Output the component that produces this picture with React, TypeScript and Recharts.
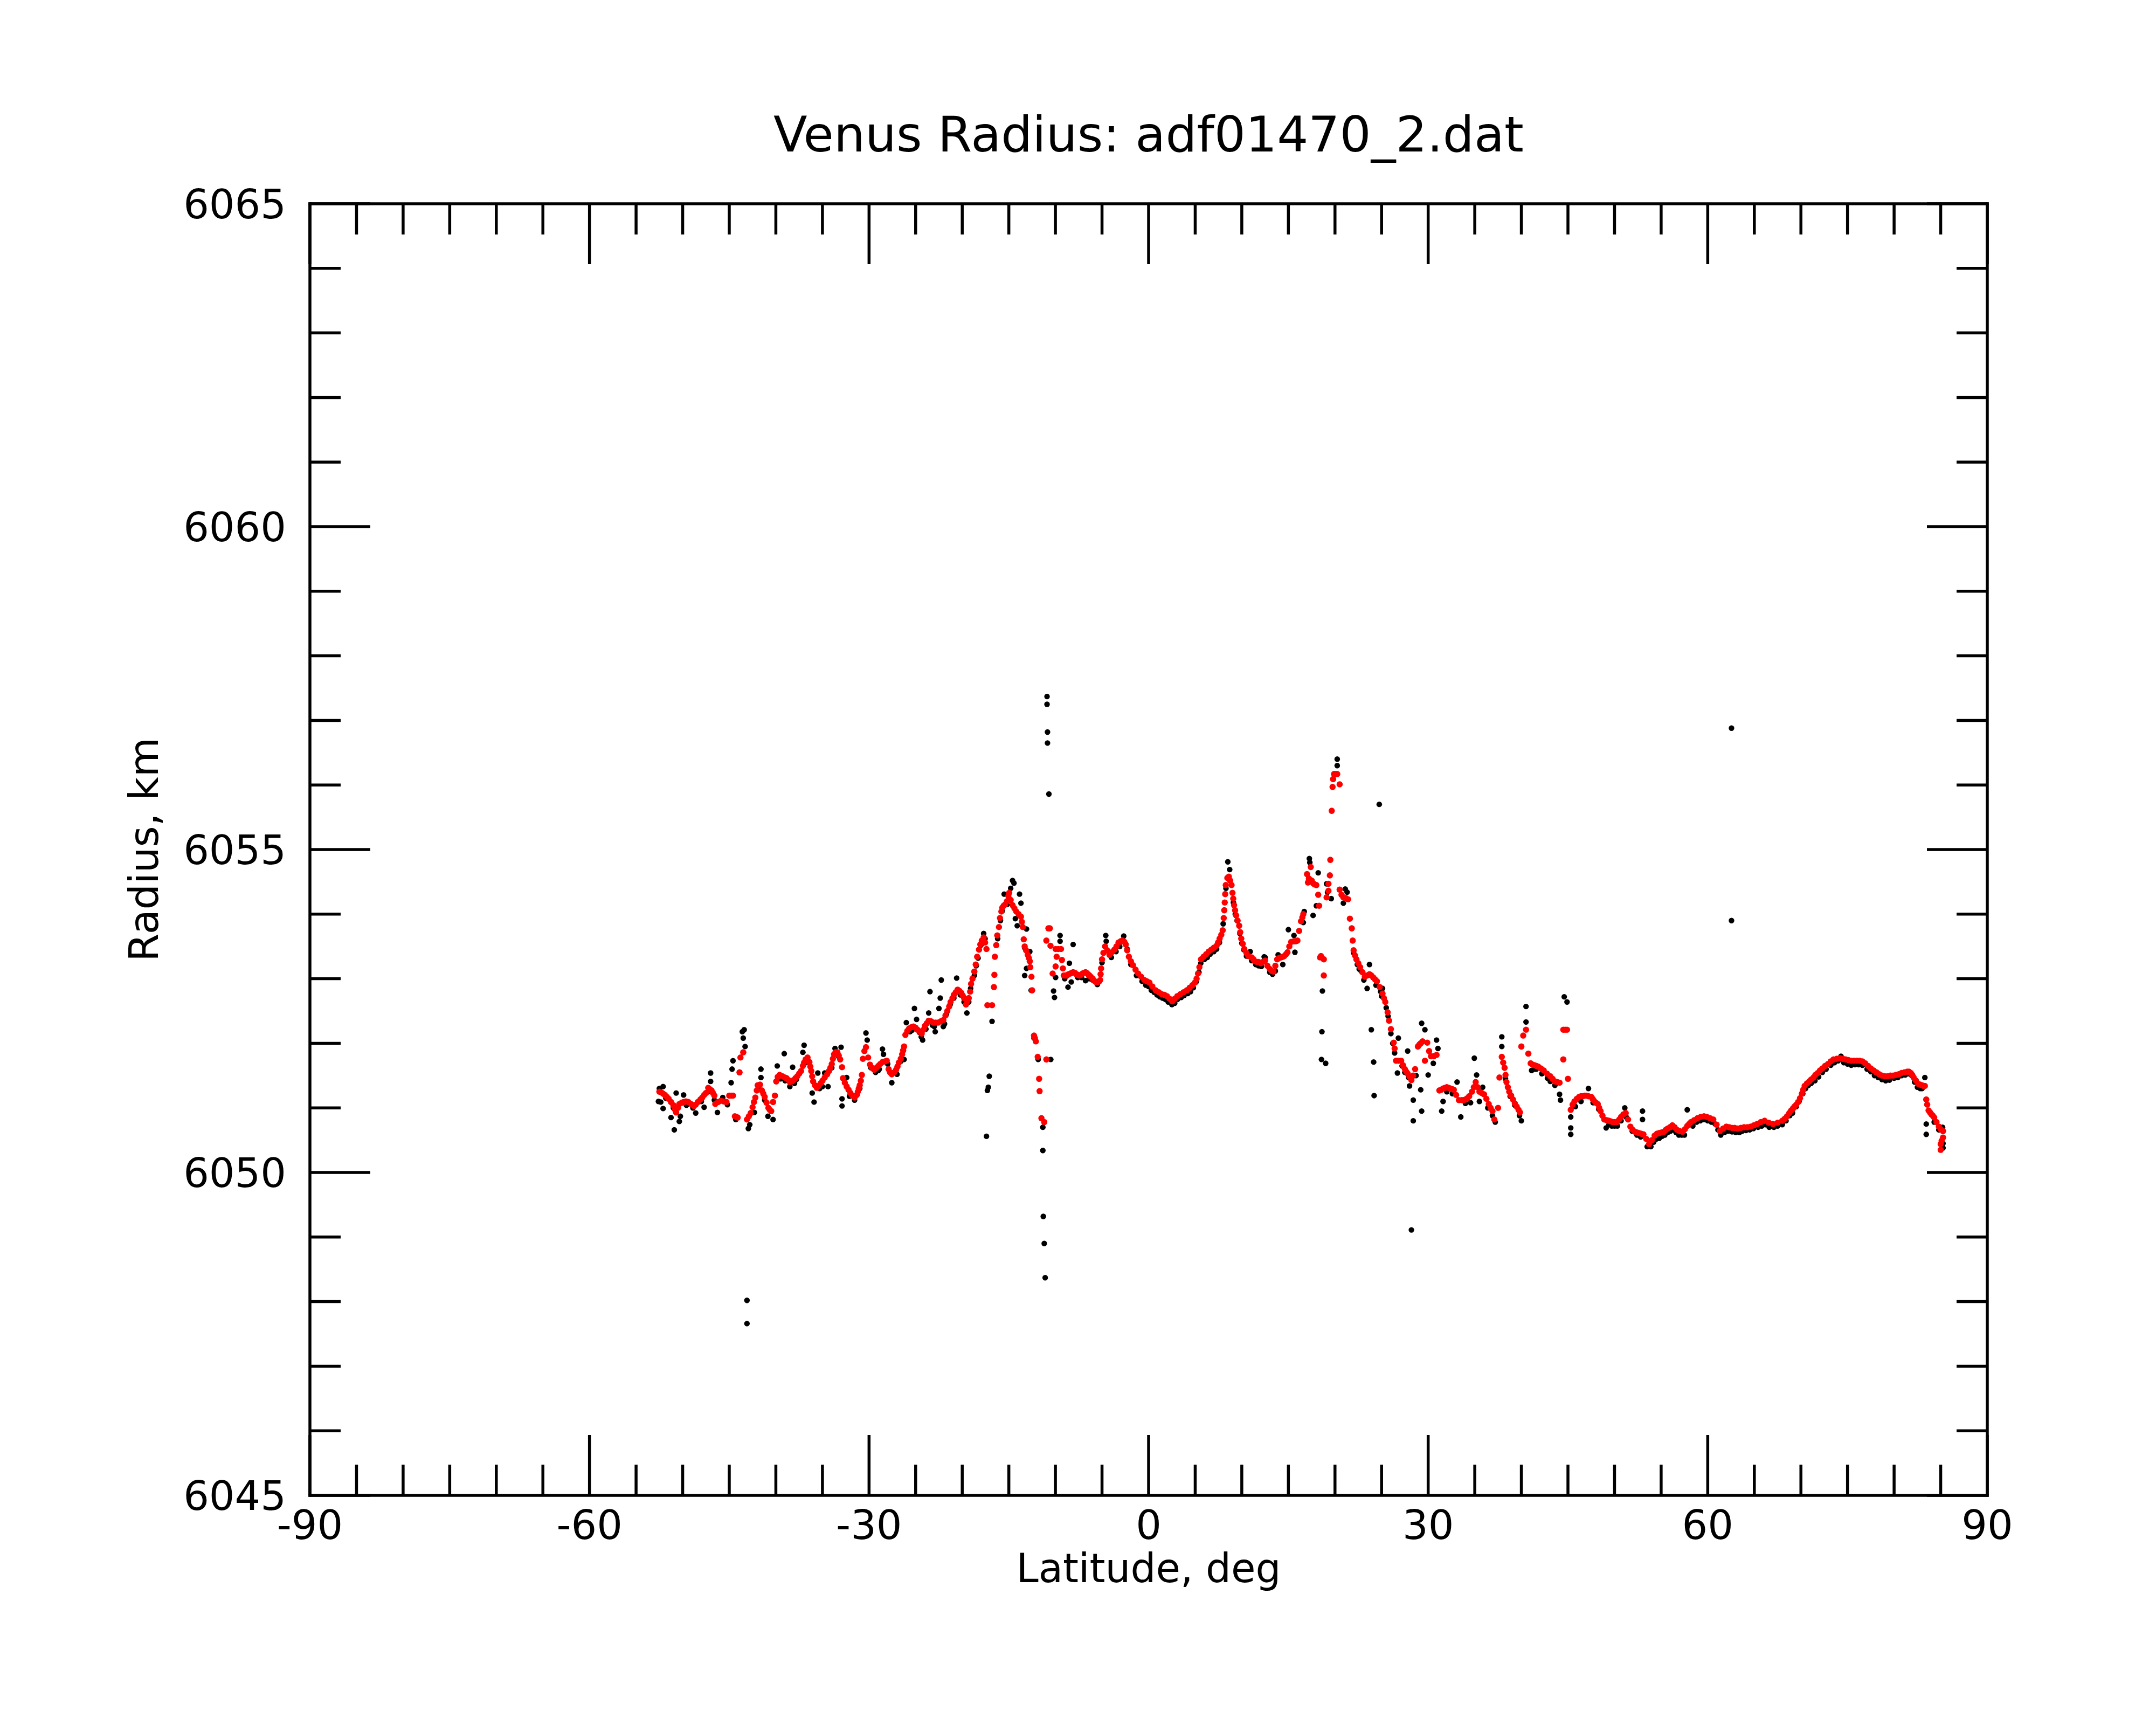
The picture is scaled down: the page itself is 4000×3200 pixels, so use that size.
import React from "react";
import { Scatter, ScatterChart, XAxis, YAxis } from "recharts";

// raw radius samples (black), [latitude deg, radius km]
const rawSamples: [number, number][] = [
  [-52.6, 6051.1], [-52.5, 6051.3], [-52.35, 6051.09], [-52.1, 6051.33], [-52.1, 6050.99],
  [-51.8, 6051.15], [-51.25, 6050.85], [-51.0, 6051.0], [-50.9, 6050.66], [-50.7, 6051.23],
  [-50.36, 6050.79], [-50.25, 6050.87], [-49.9, 6051.2], [-49.6, 6051.04], [-48.9, 6051.0],
  [-48.6, 6050.92], [-48.0, 6051.1], [-47.7, 6051.01], [-47.3, 6051.25], [-47.0, 6051.54],
  [-47.0, 6051.41], [-46.6, 6051.12], [-46.27, 6050.93], [-45.7, 6051.16], [-45.2, 6051.05],
  [-44.8, 6051.39], [-44.7, 6051.6], [-44.6, 6051.73], [-44.3, 6050.82], [-43.6, 6052.18],
  [-43.5, 6052.08], [-43.4, 6052.21], [-43.3, 6051.95], [-43.1, 6048.02], [-43.1, 6047.66],
  [-42.95, 6050.68], [-42.8, 6050.74], [-42.3, 6050.93], [-41.9, 6051.3], [-41.6, 6051.6],
  [-41.6, 6051.47], [-41.2, 6051.12], [-40.85, 6050.87], [-40.3, 6050.82], [-39.85, 6051.65],
  [-39.5, 6051.45], [-39.1, 6051.84], [-39.0, 6051.42], [-38.5, 6051.33], [-38.2, 6051.63],
  [-38.0, 6051.38], [-37.8, 6051.44], [-37.1, 6051.86], [-36.97, 6051.97], [-36.8, 6051.7],
  [-36.5, 6051.72], [-36.1, 6051.23], [-35.9, 6051.09], [-35.5, 6051.54], [-35.3, 6051.3],
  [-35.0, 6051.33], [-34.76, 6051.54], [-34.4, 6051.33], [-34.0, 6051.62], [-33.65, 6051.92],
  [-33.3, 6051.8], [-33.0, 6051.94], [-32.9, 6051.14], [-32.9, 6051.03], [-32.4, 6051.47],
  [-32.1, 6051.18], [-31.55, 6051.12], [-31.3, 6051.2], [-31.0, 6051.3], [-30.33, 6052.16],
  [-30.2, 6052.05], [-29.8, 6051.62], [-29.3, 6051.55], [-29.0, 6051.58], [-28.9, 6051.6],
  [-28.56, 6051.91], [-28.45, 6051.83], [-28.0, 6051.68], [-27.56, 6051.39], [-27.2, 6051.55],
  [-27.0, 6051.52], [-26.6, 6051.72], [-26.24, 6051.75], [-26.0, 6052.32], [-25.6, 6052.18],
  [-25.4, 6052.2], [-25.13, 6052.54], [-24.9, 6052.37], [-24.6, 6052.17], [-24.4, 6052.1],
  [-24.25, 6052.05], [-23.9, 6052.22], [-23.6, 6052.47], [-23.46, 6052.8], [-23.2, 6052.28],
  [-23.0, 6052.26], [-22.9, 6052.18], [-22.5, 6052.54], [-22.36, 6052.7], [-22.25, 6052.98],
  [-22.03, 6052.26], [-21.9, 6052.3], [-21.7, 6052.45], [-21.3, 6052.6], [-20.9, 6052.7],
  [-20.6, 6053.01], [-20.6, 6052.8], [-20.2, 6052.75], [-19.8, 6052.64], [-19.5, 6052.47],
  [-19.3, 6052.64], [-19.1, 6052.85], [-18.7, 6053.05], [-18.5, 6053.2], [-18.3, 6053.32],
  [-18.0, 6053.52], [-17.7, 6053.7], [-17.55, 6053.62], [-17.4, 6050.56], [-17.3, 6051.27],
  [-17.2, 6051.32], [-17.1, 6051.49], [-16.8, 6052.34], [-16.2, 6053.62], [-15.9, 6053.9],
  [-15.7, 6054.05], [-15.5, 6054.31], [-15.2, 6054.15], [-14.8, 6054.4], [-14.6, 6054.52],
  [-14.45, 6054.48], [-14.3, 6053.93], [-14.1, 6053.82], [-13.85, 6054.31], [-13.7, 6054.17],
  [-13.3, 6053.48], [-13.1, 6053.77], [-13.1, 6053.16], [-13.3, 6053.05], [-12.75, 6053.42],
  [-12.6, 6052.82], [-12.3, 6052.08], [-11.85, 6051.75], [-11.35, 6050.7], [-11.35, 6050.34],
  [-11.3, 6049.32], [-11.2, 6048.9], [-11.1, 6048.37], [-10.9, 6057.37], [-10.9, 6057.25],
  [-10.85, 6056.82], [-10.85, 6056.65], [-10.7, 6055.86], [-10.5, 6051.75], [-10.2, 6052.81],
  [-10.1, 6052.71], [-9.98, 6053.02], [-9.5, 6053.67], [-9.5, 6053.58], [-9.0, 6053.0],
  [-8.65, 6052.87], [-8.5, 6053.24], [-8.3, 6052.95], [-8.1, 6053.53], [-7.6, 6053.02],
  [-7.2, 6053.02], [-6.77, 6052.97], [-6.4, 6053.0], [-6.0, 6052.98], [-5.5, 6052.91],
  [-5.0, 6053.25], [-4.6, 6053.67], [-4.55, 6053.58], [-4.0, 6053.33], [-3.5, 6053.42],
  [-3.1, 6053.5], [-2.67, 6053.66], [-2.3, 6053.46], [-1.9, 6053.22], [-1.3, 6053.05],
  [-0.7, 6052.96], [-0.3, 6052.9], [0.0, 6052.88], [0.3, 6052.82], [0.6, 6052.79],
  [0.9, 6052.75], [1.2, 6052.72], [1.5, 6052.7], [1.8, 6052.68], [2.1, 6052.64],
  [2.5, 6052.6], [2.8, 6052.62], [3.1, 6052.68], [3.5, 6052.71], [3.8, 6052.74],
  [4.2, 6052.77], [4.5, 6052.8], [4.8, 6052.86], [5.1, 6052.95], [5.4, 6053.1],
  [5.6, 6053.24], [6.0, 6053.3], [6.3, 6053.33], [6.6, 6053.38], [7.0, 6053.42],
  [7.3, 6053.46], [7.6, 6053.56], [8.0, 6053.85], [8.3, 6054.4], [8.5, 6054.81],
  [8.7, 6054.69], [9.1, 6054.18], [9.3, 6054.0], [9.5, 6053.9], [9.8, 6053.7],
  [10.0, 6053.55], [10.2, 6053.45], [10.5, 6053.35], [10.9, 6053.42], [11.06, 6053.28],
  [11.5, 6053.22], [11.8, 6053.2], [12.1, 6053.19], [12.4, 6053.34], [12.5, 6053.33],
  [13.0, 6053.1], [13.3, 6053.07], [13.6, 6053.12], [13.9, 6053.37], [14.4, 6053.22],
  [15.0, 6053.76], [15.6, 6053.67], [15.7, 6053.41], [16.6, 6053.87], [16.7, 6054.04],
  [17.25, 6054.86], [17.3, 6054.8], [17.65, 6053.98], [18.0, 6054.13], [18.2, 6054.64],
  [18.55, 6051.75], [18.6, 6052.18], [18.65, 6052.81], [19.0, 6051.69], [19.1, 6054.47],
  [19.2, 6054.34], [19.6, 6054.24], [20.24, 6056.4], [20.24, 6056.3], [20.9, 6054.17],
  [21.1, 6054.39], [21.3, 6054.34], [22.0, 6053.4], [22.4, 6053.22], [22.6, 6053.15],
  [22.8, 6053.12], [23.1, 6052.98], [23.45, 6052.85], [23.7, 6053.22], [23.9, 6052.21],
  [24.15, 6051.71], [24.2, 6051.19], [24.4, 6052.9], [24.75, 6055.7], [24.9, 6052.8],
  [25.0, 6052.73], [25.1, 6052.85], [25.5, 6052.55], [25.7, 6052.42], [26.0, 6052.15],
  [26.2, 6052.0], [26.4, 6051.85], [26.7, 6051.54], [26.8, 6052.08], [27.2, 6051.65],
  [27.5, 6051.55], [27.8, 6051.88], [27.9, 6051.47], [28.0, 6051.34], [28.2, 6049.11],
  [28.4, 6050.8], [28.4, 6051.12], [28.7, 6051.5], [29.2, 6051.28], [29.3, 6050.95],
  [29.3, 6052.31], [29.65, 6052.21], [30.0, 6051.51], [30.55, 6051.69], [30.9, 6052.05],
  [31.05, 6051.92], [31.45, 6050.95], [31.6, 6051.1], [32.0, 6051.25], [32.6, 6051.22],
  [33.1, 6051.4], [33.5, 6050.86], [34.0, 6051.07], [34.55, 6051.08], [34.95, 6051.77],
  [35.2, 6051.51], [35.5, 6051.1], [35.85, 6051.32], [36.4, 6051.0], [36.9, 6050.88],
  [37.2, 6050.78], [37.9, 6052.1], [37.9, 6051.95], [38.3, 6051.45], [38.8, 6051.18],
  [39.3, 6051.04], [39.8, 6050.88], [40.0, 6050.8], [40.5, 6052.57], [40.5, 6052.33],
  [41.1, 6051.58], [41.4, 6051.6], [41.6, 6051.6], [42.2, 6051.53], [42.8, 6051.46],
  [43.1, 6051.41], [43.6, 6051.35], [44.1, 6051.21], [44.2, 6051.12], [44.6, 6052.72],
  [44.9, 6052.64], [45.3, 6050.86], [45.3, 6050.69], [45.3, 6050.59], [45.8, 6051.02],
  [46.4, 6051.1], [47.2, 6051.3], [47.7, 6051.08], [48.3, 6050.98], [49.1, 6050.69],
  [49.4, 6050.74], [49.7, 6050.72], [50.0, 6050.72], [50.3, 6050.72], [50.7, 6050.8],
  [51.1, 6051.0], [51.3, 6050.85], [51.9, 6050.64], [52.4, 6050.58], [52.8, 6050.55],
  [53.0, 6050.95], [53.0, 6050.82], [53.5, 6050.4], [53.9, 6050.4], [54.2, 6050.47],
  [54.5, 6050.52], [54.8, 6050.53], [55.1, 6050.56], [55.4, 6050.58], [55.7, 6050.62],
  [56.0, 6050.64], [56.3, 6050.66], [56.6, 6050.62], [56.9, 6050.58], [57.2, 6050.58],
  [57.5, 6050.58], [57.8, 6050.97], [58.4, 6050.72], [58.8, 6050.78], [59.2, 6050.8],
  [59.6, 6050.82], [60.0, 6050.8], [60.4, 6050.78], [60.8, 6050.75], [61.1, 6050.66],
  [61.4, 6050.58], [61.8, 6050.62], [62.2, 6050.64], [62.55, 6053.9], [62.55, 6056.88],
  [62.6, 6050.63], [63.0, 6050.62], [63.4, 6050.62], [63.7, 6050.64], [64.1, 6050.65],
  [64.5, 6050.66], [64.9, 6050.68], [65.4, 6050.7], [65.8, 6050.72], [66.2, 6050.74],
  [66.6, 6050.7], [67.1, 6050.7], [67.5, 6050.72], [68.0, 6050.74], [68.4, 6050.8],
  [68.8, 6050.88], [69.1, 6050.92], [69.5, 6051.02], [69.8, 6051.1], [70.2, 6051.22],
  [70.5, 6051.3], [70.8, 6051.35], [71.1, 6051.38], [71.5, 6051.42], [71.9, 6051.48],
  [72.3, 6051.55], [72.7, 6051.6], [73.2, 6051.66], [73.6, 6051.7], [74.0, 6051.73],
  [74.3, 6051.8], [74.6, 6051.7], [75.0, 6051.68], [75.4, 6051.66], [75.8, 6051.67],
  [76.2, 6051.67], [76.6, 6051.66], [77.1, 6051.6], [77.5, 6051.56], [77.9, 6051.5],
  [78.3, 6051.47], [78.7, 6051.44], [79.1, 6051.42], [79.5, 6051.43], [80.0, 6051.46],
  [80.4, 6051.47], [80.8, 6051.5], [81.2, 6051.51], [81.6, 6051.53], [81.9, 6051.5],
  [82.2, 6051.4], [82.5, 6051.32], [82.8, 6051.3], [83.0, 6051.3], [83.3, 6051.47],
  [83.45, 6050.75], [83.45, 6050.59], [83.9, 6050.92], [84.3, 6050.78], [84.8, 6050.66],
  [85.2, 6050.7], [85.25, 6050.45], [85.25, 6050.38],
];

// filtered radius samples (red)
const fitSamples: [number, number][] = [
  [-52.5, 6051.25], [-52.3, 6051.24], [-52.1, 6051.22], [-51.9, 6051.2], [-51.7, 6051.17],
  [-51.5, 6051.14], [-51.25, 6051.09], [-51.0, 6051.04], [-50.85, 6050.98], [-50.7, 6050.93],
  [-50.5, 6051.0], [-50.36, 6051.06], [-50.1, 6051.08], [-49.9, 6051.09], [-49.65, 6051.1],
  [-49.4, 6051.09], [-49.1, 6051.06], [-48.8, 6051.03], [-48.6, 6051.05], [-48.37, 6051.09],
  [-48.1, 6051.13], [-47.9, 6051.16], [-47.7, 6051.2], [-47.5, 6051.23], [-47.26, 6051.31],
  [-47.1, 6051.29], [-46.9, 6051.27], [-46.75, 6051.23], [-46.6, 6051.19], [-46.5, 6051.06],
  [-46.2, 6051.09], [-45.9, 6051.11], [-45.6, 6051.1], [-45.3, 6051.09], [-45.0, 6051.19],
  [-44.8, 6051.19], [-44.6, 6051.19], [-44.4, 6050.87], [-44.25, 6050.86], [-44.1, 6050.85],
  [-43.9, 6051.55], [-43.8, 6051.78], [-43.5, 6051.86], [-43.1, 6050.82], [-42.9, 6050.87],
  [-42.7, 6050.92], [-42.5, 6051.01], [-42.35, 6051.09], [-42.2, 6051.16], [-42.05, 6051.27],
  [-41.95, 6051.35], [-41.7, 6051.36], [-41.5, 6051.27], [-41.35, 6051.22], [-41.2, 6051.17],
  [-41.0, 6051.08], [-40.8, 6051.0], [-40.65, 6050.97], [-40.5, 6050.95], [-40.3, 6051.09],
  [-40.1, 6051.19], [-39.96, 6051.41], [-39.8, 6051.48], [-39.6, 6051.51], [-39.3, 6051.49],
  [-39.05, 6051.47], [-38.85, 6051.46], [-38.65, 6051.43], [-38.5, 6051.4], [-38.3, 6051.41],
  [-38.1, 6051.43], [-37.9, 6051.46], [-37.7, 6051.49], [-37.5, 6051.53], [-37.3, 6051.57],
  [-37.1, 6051.65], [-36.97, 6051.7], [-36.8, 6051.75], [-36.6, 6051.78], [-36.4, 6051.71],
  [-36.3, 6051.64], [-36.2, 6051.57], [-36.1, 6051.49], [-36.0, 6051.41], [-35.8, 6051.35],
  [-35.6, 6051.31], [-35.4, 6051.34], [-35.2, 6051.38], [-35.0, 6051.42], [-34.76, 6051.47],
  [-34.5, 6051.52], [-34.3, 6051.57], [-34.15, 6051.62], [-34.0, 6051.68], [-33.88, 6051.76],
  [-33.76, 6051.83], [-33.6, 6051.86], [-33.4, 6051.86], [-33.25, 6051.81], [-33.1, 6051.75],
  [-32.9, 6051.63], [-32.8, 6051.46], [-32.6, 6051.39], [-32.4, 6051.33], [-32.2, 6051.28],
  [-32.0, 6051.23], [-31.8, 6051.19], [-31.55, 6051.16], [-31.35, 6051.2], [-31.2, 6051.25],
  [-31.1, 6051.3], [-31.0, 6051.35], [-30.88, 6051.42], [-30.77, 6051.51], [-30.66, 6051.76],
  [-30.5, 6051.88], [-30.33, 6051.94], [-30.1, 6051.78], [-29.9, 6051.67], [-29.7, 6051.62],
  [-29.45, 6051.59], [-29.2, 6051.62], [-29.0, 6051.65], [-28.8, 6051.68], [-28.56, 6051.71],
  [-28.3, 6051.72], [-28.1, 6051.73], [-27.9, 6051.6], [-27.75, 6051.55], [-27.56, 6051.52],
  [-27.3, 6051.55], [-27.1, 6051.59], [-26.95, 6051.64], [-26.8, 6051.7], [-26.6, 6051.76],
  [-26.45, 6051.83], [-26.34, 6051.89], [-26.24, 6051.95], [-26.1, 6052.13], [-25.9, 6052.19],
  [-25.7, 6052.23], [-25.45, 6052.25], [-25.24, 6052.26], [-25.0, 6052.24], [-24.8, 6052.21],
  [-24.55, 6052.18], [-24.35, 6052.15], [-24.15, 6052.21], [-24.0, 6052.27], [-23.8, 6052.31],
  [-23.6, 6052.35], [-23.35, 6052.34], [-23.1, 6052.32], [-22.85, 6052.32], [-22.6, 6052.32],
  [-22.3, 6052.34], [-22.03, 6052.36], [-21.8, 6052.43], [-21.6, 6052.5], [-21.4, 6052.57],
  [-21.25, 6052.64], [-21.05, 6052.7], [-20.9, 6052.75], [-20.7, 6052.79], [-20.5, 6052.83],
  [-20.3, 6052.81], [-20.1, 6052.78], [-19.95, 6052.74], [-19.8, 6052.7], [-19.6, 6052.6],
  [-19.45, 6052.65], [-19.3, 6052.7], [-19.15, 6052.8], [-19.05, 6052.92], [-18.9, 6053.0],
  [-18.7, 6053.11], [-18.55, 6053.22], [-18.4, 6053.34], [-18.2, 6053.45], [-18.06, 6053.53],
  [-17.9, 6053.59], [-17.7, 6053.64], [-17.55, 6053.56], [-17.4, 6053.46], [-17.3, 6052.59],
  [-16.8, 6052.59], [-16.6, 6052.87], [-16.55, 6053.06], [-16.5, 6053.34], [-16.35, 6053.52],
  [-16.24, 6053.67], [-16.06, 6053.8], [-15.95, 6053.94], [-15.8, 6054.04], [-15.7, 6054.1],
  [-15.55, 6054.13], [-15.4, 6054.15], [-15.2, 6054.2], [-15.05, 6054.28], [-14.96, 6054.33],
  [-14.8, 6054.22], [-14.6, 6054.14], [-14.4, 6054.09], [-14.2, 6054.04], [-13.95, 6054.0],
  [-13.7, 6053.96], [-13.6, 6053.88], [-13.5, 6053.8], [-13.4, 6053.61], [-13.3, 6053.5],
  [-13.15, 6053.44], [-12.97, 6053.37], [-12.85, 6053.32], [-12.75, 6053.27], [-12.7, 6053.18],
  [-12.57, 6053.03], [-12.5, 6052.82], [-12.3, 6052.12], [-12.2, 6052.08], [-12.1, 6052.03],
  [-11.9, 6051.79], [-11.75, 6051.45], [-11.7, 6051.26], [-11.5, 6050.84], [-11.2, 6050.78],
  [-10.97, 6051.75], [-10.97, 6053.59], [-10.75, 6053.78], [-10.6, 6053.78], [-10.53, 6053.51],
  [-10.3, 6053.08], [-9.98, 6053.46], [-9.87, 6053.34], [-9.98, 6053.19], [-9.7, 6053.46],
  [-9.4, 6053.46], [-9.3, 6053.29], [-9.2, 6053.16], [-9.1, 6053.05], [-8.95, 6053.05],
  [-8.76, 6053.05], [-8.6, 6053.07], [-8.4, 6053.08], [-8.25, 6053.09], [-8.1, 6053.1],
  [-7.9, 6053.09], [-7.75, 6053.07], [-7.6, 6053.06], [-7.43, 6053.05], [-7.25, 6053.06],
  [-7.1, 6053.08], [-6.95, 6053.09], [-6.77, 6053.1], [-6.65, 6053.09], [-6.5, 6053.07],
  [-6.35, 6053.05], [-6.2, 6053.03], [-6.0, 6053.0], [-5.85, 6052.97], [-5.66, 6052.95],
  [-5.45, 6052.95], [-5.3, 6052.96], [-5.2, 6052.98], [-5.15, 6053.07], [-5.1, 6053.16],
  [-5.0, 6053.3], [-4.85, 6053.4], [-4.67, 6053.5], [-4.45, 6053.44], [-4.2, 6053.37],
  [-3.95, 6053.41], [-3.67, 6053.45], [-3.45, 6053.5], [-3.23, 6053.56], [-3.0, 6053.58],
  [-2.8, 6053.59], [-2.6, 6053.57], [-2.45, 6053.53], [-2.3, 6053.44], [-2.12, 6053.34],
  [-1.9, 6053.27], [-1.68, 6053.21], [-1.4, 6053.14], [-1.12, 6053.08], [-0.8, 6053.03],
  [-0.46, 6052.98], [-0.2, 6052.96], [0.09, 6052.94], [0.4, 6052.88], [0.76, 6052.82],
  [1.1, 6052.79], [1.42, 6052.76], [1.7, 6052.75], [1.97, 6052.73], [2.25, 6052.69],
  [2.53, 6052.65], [2.8, 6052.69], [3.08, 6052.73], [3.4, 6052.76], [3.74, 6052.79],
  [4.1, 6052.82], [4.41, 6052.86], [4.7, 6052.9], [4.96, 6052.94], [5.15, 6053.0],
  [5.3, 6053.08], [5.45, 6053.18], [5.63, 6053.3], [5.9, 6053.34], [6.18, 6053.38],
  [6.45, 6053.42], [6.73, 6053.45], [7.0, 6053.48], [7.29, 6053.51], [7.45, 6053.56],
  [7.62, 6053.62], [7.8, 6053.68], [7.95, 6053.75], [8.06, 6053.94], [8.12, 6054.06],
  [8.17, 6054.18], [8.22, 6054.31], [8.28, 6054.45], [8.45, 6054.56], [8.61, 6054.58],
  [8.75, 6054.52], [8.9, 6054.45], [9.0, 6054.33], [9.08, 6054.24], [9.17, 6054.14],
  [9.28, 6054.06], [9.39, 6053.98], [9.55, 6053.9], [9.72, 6053.82], [9.83, 6053.72],
  [9.94, 6053.62], [10.1, 6053.54], [10.27, 6053.46], [10.5, 6053.4], [10.7, 6053.35],
  [11.06, 6053.33], [11.25, 6053.3], [11.4, 6053.27], [11.6, 6053.26], [11.8, 6053.26],
  [12.05, 6053.24], [12.25, 6053.26], [12.5, 6053.28], [12.75, 6053.2], [13.0, 6053.15],
  [13.2, 6053.12], [13.4, 6053.11], [13.6, 6053.2], [13.8, 6053.3], [14.0, 6053.32],
  [14.2, 6053.33], [14.4, 6053.34], [14.55, 6053.35], [14.75, 6053.38], [14.9, 6053.41],
  [15.1, 6053.5], [15.3, 6053.57], [15.6, 6053.58], [15.8, 6053.58], [15.97, 6053.59],
  [16.15, 6053.74], [16.35, 6053.89], [16.5, 6053.95], [16.6, 6054.0], [17.0, 6054.62],
  [17.1, 6054.49], [17.2, 6054.55], [17.4, 6054.73], [17.5, 6054.52], [17.65, 6054.48],
  [17.8, 6054.46], [18.0, 6054.45], [18.2, 6054.3], [18.3, 6054.13], [18.4, 6053.33],
  [18.5, 6053.35], [18.8, 6053.3], [18.8, 6053.05], [19.1, 6054.26], [19.3, 6054.36],
  [19.3, 6054.47], [19.45, 6054.6], [19.5, 6054.84], [19.65, 6055.6], [19.74, 6055.97],
  [19.8, 6056.09], [19.9, 6056.17], [20.1, 6056.17], [20.24, 6056.17], [20.5, 6056.01],
  [20.5, 6054.38], [20.7, 6054.3], [20.9, 6054.26], [21.15, 6054.25], [21.4, 6054.23],
  [21.6, 6053.93], [21.8, 6053.78], [21.9, 6053.59], [22.0, 6053.44], [22.15, 6053.36],
  [22.3, 6053.3], [22.5, 6053.24], [22.7, 6053.18], [22.95, 6053.1], [23.2, 6053.03],
  [23.45, 6053.05], [23.7, 6053.07], [23.9, 6053.05], [24.1, 6053.02], [24.3, 6052.99],
  [24.5, 6052.96], [24.8, 6052.87], [25.1, 6052.77], [25.25, 6052.7], [25.4, 6052.64],
  [25.65, 6052.48], [25.8, 6052.35], [26.0, 6052.22], [26.3, 6052.01], [26.4, 6051.92],
  [26.55, 6051.73], [26.8, 6051.73], [27.1, 6051.73], [27.3, 6051.66], [27.5, 6051.6],
  [27.65, 6051.56], [27.8, 6051.53], [28.0, 6051.48], [28.2, 6051.43], [28.4, 6051.5],
  [28.6, 6051.6], [28.9, 6051.95], [29.05, 6051.98], [29.2, 6052.0], [29.4, 6052.03],
  [29.65, 6051.73], [29.9, 6052.01], [30.1, 6051.88], [30.3, 6051.8], [30.6, 6051.8],
  [30.9, 6051.82], [31.2, 6051.27], [31.4, 6051.28], [31.6, 6051.3], [31.8, 6051.31],
  [32.0, 6051.32], [32.2, 6051.31], [32.4, 6051.3], [32.6, 6051.29], [32.75, 6051.28],
  [33.0, 6051.2], [33.3, 6051.12], [33.6, 6051.12], [33.8, 6051.12], [34.0, 6051.13],
  [34.2, 6051.15], [34.4, 6051.18], [34.7, 6051.25], [34.9, 6051.32], [35.1, 6051.4],
  [35.3, 6051.32], [35.5, 6051.25], [35.75, 6051.23], [36.0, 6051.21], [36.25, 6051.14],
  [36.5, 6051.06], [36.7, 6051.0], [36.9, 6050.95], [37.1, 6050.82], [37.5, 6051.0],
  [37.65, 6051.47], [37.9, 6051.79], [38.05, 6051.7], [38.2, 6051.62], [38.3, 6051.51],
  [38.4, 6051.4], [38.55, 6051.32], [38.7, 6051.25], [38.9, 6051.19], [39.1, 6051.13],
  [39.3, 6051.07], [39.5, 6051.02], [39.7, 6050.97], [39.85, 6050.93], [40.0, 6051.95],
  [40.2, 6052.12], [40.5, 6052.21], [40.75, 6051.84], [41.0, 6051.69], [41.2, 6051.67],
  [41.4, 6051.66], [41.6, 6051.65], [41.8, 6051.64], [42.1, 6051.61], [42.4, 6051.58],
  [42.75, 6051.53], [43.1, 6051.49], [43.35, 6051.45], [43.6, 6051.41], [43.85, 6051.4],
  [44.1, 6051.39], [44.5, 6052.21], [44.7, 6052.21], [44.9, 6052.21], [44.5, 6051.75],
  [45.0, 6051.45], [45.3, 6050.97], [45.5, 6051.05], [45.7, 6051.1], [45.95, 6051.14],
  [46.2, 6051.17], [46.4, 6051.18], [46.6, 6051.18], [46.8, 6051.19], [46.95, 6051.19],
  [47.2, 6051.18], [47.5, 6051.17], [47.65, 6051.14], [47.8, 6051.11], [48.0, 6051.08],
  [48.2, 6051.06], [48.35, 6051.0], [48.5, 6050.95], [48.7, 6050.88], [48.9, 6050.82],
  [49.15, 6050.81], [49.4, 6050.8], [49.6, 6050.79], [49.8, 6050.78], [50.0, 6050.78],
  [50.25, 6050.78], [50.5, 6050.82], [50.7, 6050.86], [50.95, 6050.9], [51.2, 6050.92],
  [51.45, 6050.82], [51.7, 6050.71], [51.95, 6050.66], [52.2, 6050.63], [52.4, 6050.62],
  [52.6, 6050.61], [52.85, 6050.6], [53.1, 6050.59], [53.4, 6050.52], [53.7, 6050.44],
  [54.0, 6050.5], [54.3, 6050.57], [54.55, 6050.6], [54.8, 6050.61], [55.05, 6050.62],
  [55.3, 6050.63], [55.5, 6050.66], [55.7, 6050.68], [55.95, 6050.7], [56.2, 6050.73],
  [56.45, 6050.7], [56.7, 6050.66], [57.0, 6050.64], [57.3, 6050.63], [57.55, 6050.67],
  [57.8, 6050.72], [58.0, 6050.75], [58.2, 6050.78], [58.55, 6050.81], [58.9, 6050.84],
  [59.25, 6050.86], [59.6, 6050.87], [59.9, 6050.86], [60.25, 6050.84], [60.6, 6050.82],
  [60.95, 6050.74], [61.3, 6050.64], [61.65, 6050.68], [62.0, 6050.71], [62.3, 6050.7],
  [62.6, 6050.69], [62.9, 6050.69], [63.2, 6050.68], [63.55, 6050.69], [63.9, 6050.7],
  [64.25, 6050.7], [64.6, 6050.71], [64.95, 6050.73], [65.3, 6050.75], [65.7, 6050.78],
  [66.1, 6050.8], [66.55, 6050.77], [67.0, 6050.75], [67.5, 6050.77], [68.0, 6050.8],
  [68.25, 6050.83], [68.5, 6050.87], [68.75, 6050.92], [68.95, 6050.96], [69.15, 6050.99],
  [69.3, 6051.02], [69.5, 6051.05], [69.7, 6051.09], [69.9, 6051.15], [70.1, 6051.22],
  [70.25, 6051.28], [70.4, 6051.34], [70.65, 6051.38], [70.9, 6051.41], [71.1, 6051.44],
  [71.35, 6051.47], [71.55, 6051.51], [71.8, 6051.54], [72.05, 6051.58], [72.3, 6051.61],
  [72.6, 6051.65], [72.9, 6051.68], [73.2, 6051.72], [73.5, 6051.75], [73.85, 6051.76],
  [74.2, 6051.77], [74.5, 6051.76], [74.8, 6051.75], [75.1, 6051.74], [75.4, 6051.73],
  [75.7, 6051.73], [76.0, 6051.73], [76.3, 6051.73], [76.6, 6051.72], [76.9, 6051.69],
  [77.2, 6051.65], [77.5, 6051.61], [77.8, 6051.58], [78.1, 6051.55], [78.4, 6051.52],
  [78.7, 6051.5], [79.0, 6051.49], [79.3, 6051.49], [79.6, 6051.5], [79.9, 6051.5],
  [80.2, 6051.51], [80.5, 6051.52], [80.8, 6051.54], [81.1, 6051.55], [81.4, 6051.56],
  [81.6, 6051.56], [81.8, 6051.54], [81.95, 6051.51], [82.1, 6051.47], [82.35, 6051.42],
  [82.6, 6051.37], [82.8, 6051.36], [83.0, 6051.35], [83.15, 6051.34], [83.3, 6051.34],
  [83.45, 6051.13], [83.55, 6051.05], [83.7, 6050.96], [83.85, 6050.93], [84.0, 6050.9],
  [84.15, 6050.88], [84.3, 6050.85], [84.55, 6050.78], [84.8, 6050.71], [85.0, 6050.67],
  [85.25, 6050.64], [85.25, 6050.54], [85.1, 6050.49], [85.0, 6050.44], [85.0, 6050.35],
];

const latTicks = [
  -90, -85, -80, -75, -70, -65, -60, -55, -50, -45, -40, -35, -30, -25, -20, -15, -10, -5, 0,
  5, 10, 15, 20, 25, 30, 35, 40, 45, 50, 55, 60, 65, 70, 75, 80, 85, 90,
];
const latLabels = [-90, -60, -30, 0, 30, 60, 90];
const radiusTicks = [
  6045, 6046, 6047, 6048, 6049, 6050, 6051, 6052, 6053, 6054, 6055, 6056, 6057, 6058, 6059,
  6060, 6061, 6062, 6063, 6064, 6065,
];
const radiusLabels = [6045, 6050, 6055, 6060, 6065];

const FONT = "DejaVu Sans";
const LINE = 5.5;
const MAJOR_LEN = 112;
const MINOR_LEN = 57;
const BOTTOM_GAP = 81;
const LEFT_GAP = 44;

const toRows = (pts: [number, number][]) => pts.map(([lat, r]) => ({ lat, r }));

function BottomTick(props: any) {
  const { x, y, payload } = props;
  const major = latLabels.includes(payload.value);
  const axisY = y - BOTTOM_GAP;
  return (
    <g>
      <line x1={x} x2={x} y1={axisY} y2={axisY - (major ? MAJOR_LEN : MINOR_LEN)} stroke="#000" strokeWidth={LINE} />
      {major && (
        <text x={x} y={y} textAnchor="middle" fontFamily={FONT} fontSize={75} fill="#000">
          {payload.value}
        </text>
      )}
    </g>
  );
}

function TopTick(props: any) {
  const { x, y, payload } = props;
  const major = latLabels.includes(payload.value);
  return <line x1={x} x2={x} y1={y} y2={y + (major ? MAJOR_LEN : MINOR_LEN)} stroke="#000" strokeWidth={LINE} />;
}

function LeftTick(props: any) {
  const { x, y, payload } = props;
  const major = radiusLabels.includes(payload.value);
  const axisX = x + LEFT_GAP;
  return (
    <g>
      <line x1={axisX} x2={axisX + (major ? MAJOR_LEN : MINOR_LEN)} y1={y} y2={y} stroke="#000" strokeWidth={LINE} />
      {major && (
        <text x={x} y={y + 27} textAnchor="end" fontFamily={FONT} fontSize={75} fill="#000">
          {payload.value}
        </text>
      )}
    </g>
  );
}

function RightTick(props: any) {
  const { x, y, payload } = props;
  const major = radiusLabels.includes(payload.value);
  return <line x1={x} x2={x - (major ? MAJOR_LEN : MINOR_LEN)} y1={y} y2={y} stroke="#000" strokeWidth={LINE} />;
}

const dot = (fill: string, r: number) => (p: any) => <circle cx={p.cx} cy={p.cy} r={r} fill={fill} />;

const axisLine = { stroke: "#000", strokeWidth: LINE, strokeLinecap: "square" as const };

export default function App() {
  return (
    <div style={{ position: "absolute", left: 0, top: 0, width: 4000, height: 3200, background: "#fff" }}>
      <ScatterChart width={4000} height={3200} margin={{ top: 368, right: 303, bottom: 326, left: 375 }}>
        <XAxis
          xAxisId="bottom"
          orientation="bottom"
          type="number"
          dataKey="lat"
          domain={[-90, 90]}
          allowDataOverflow
          ticks={latTicks}
          interval={0}
          height={100}
          tickSize={0}
          tickMargin={BOTTOM_GAP}
          tickLine={false}
          axisLine={axisLine}
          tick={<BottomTick />}
        />
        <XAxis
          xAxisId="top"
          orientation="top"
          type="number"
          dataKey="lat"
          domain={[-90, 90]}
          allowDataOverflow
          ticks={latTicks}
          interval={0}
          height={10}
          tickSize={0}
          tickMargin={0}
          tickLine={false}
          axisLine={axisLine}
          tick={<TopTick />}
        />
        <YAxis
          yAxisId="left"
          orientation="left"
          type="number"
          dataKey="r"
          domain={[6045, 6065]}
          allowDataOverflow
          ticks={radiusTicks}
          interval={0}
          width={200}
          tickSize={0}
          tickMargin={LEFT_GAP}
          tickLine={false}
          axisLine={axisLine}
          tick={<LeftTick />}
        />
        <YAxis
          yAxisId="right"
          orientation="right"
          type="number"
          dataKey="r"
          domain={[6045, 6065]}
          allowDataOverflow
          ticks={radiusTicks}
          interval={0}
          width={10}
          tickSize={0}
          tickMargin={0}
          tickLine={false}
          axisLine={axisLine}
          tick={<RightTick />}
        />
        <Scatter
          data={toRows(rawSamples)}
          xAxisId="top"
          yAxisId="right"
          shape={dot("#000000", 5.2)}
          isAnimationActive={false}
        />
        <Scatter
          data={toRows(fitSamples)}
          xAxisId="bottom"
          yAxisId="left"
          shape={dot("#ff0000", 5.8)}
          isAnimationActive={false}
        />
      </ScatterChart>
      <svg width={4000} height={3200} style={{ position: "absolute", left: 0, top: 0, pointerEvents: "none" }}>
        <text x={2131} y={281} textAnchor="middle" fontFamily={FONT} fontSize={91.5} fill="#000">
          Venus Radius: adf01470_2.dat
        </text>
        <text x={2131} y={2935} textAnchor="middle" fontFamily={FONT} fontSize={74} fill="#000">
          Latitude, deg
        </text>
        <text
          x={293}
          y={1576}
          transform="rotate(-90 293 1576)"
          textAnchor="middle"
          fontFamily={FONT}
          fontSize={75}
          fill="#000"
        >
          Radius, km
        </text>
      </svg>
    </div>
  );
}
